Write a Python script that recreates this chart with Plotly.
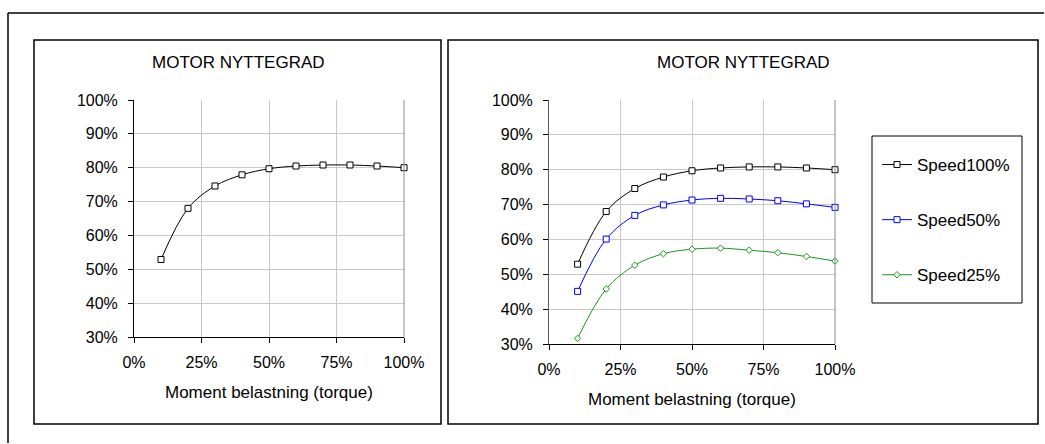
import plotly.graph_objects as go

W, H = 1045, 444

# ---- data ----
torque = [0.1, 0.2, 0.3, 0.4, 0.5, 0.6, 0.7, 0.8, 0.9, 1.0]
speed100 = [0.529, 0.680, 0.746, 0.779, 0.797, 0.805, 0.808, 0.808, 0.805, 0.800]
speed50 = [0.451, 0.601, 0.669, 0.699, 0.713, 0.718, 0.716, 0.711, 0.702, 0.692]
speed25 = [0.316, 0.458, 0.526, 0.559, 0.572, 0.575, 0.569, 0.562, 0.551, 0.538]
series_names = ["Speed100%", "Speed50%", "Speed25%"]
chart_title = "MOTOR NYTTEGRAD"
x_title = "Moment belastning (torque)"

FONT = "Arial, 'Liberation Sans', sans-serif"
FS_TICK = 16
FS_TEXT = 17


def px(x):
    return x / W


def py(y):
    return 1 - y / H


fig = go.Figure()

styles = [
    dict(color="#000000", symbol="square", size=6),
    dict(color="#0000FF", symbol="square", size=6),
    dict(color="#1a961a", symbol="diamond", size=5),
]

# left chart: single series
fig.add_trace(go.Scatter(
    x=torque, y=speed100, mode="lines+markers", xaxis="x", yaxis="y",
    line=dict(color="#000000", width=1, shape="spline", smoothing=1),
    marker=dict(symbol="square", size=6, color="white", line=dict(color="#000000", width=1)),
    showlegend=False, cliponaxis=False, name=series_names[0]))

for vals, name, st, grp in zip([speed100, speed50, speed25], series_names, styles, ["a", "b", "c"]):
    fig.add_trace(go.Scatter(
        x=torque, y=vals, mode="lines+markers", xaxis="x2", yaxis="y2",
        line=dict(color=st["color"], width=1, shape="spline", smoothing=1),
        marker=dict(symbol=st["symbol"], size=st["size"], color="white",
                    line=dict(color=st["color"], width=1)),
        name=name, legendgroup=grp, cliponaxis=False))

axis_common = dict(
    showgrid=True, gridcolor="#c8c8c8", gridwidth=1,
    showline=True, linewidth=1, automargin=False,
    ticks="outside", ticklen=5, tickcolor="#000000", tickwidth=1,
    tickfont=dict(family=FONT, size=FS_TICK, color="#000000"),
    zeroline=False, tickformat=".0%", fixedrange=True,
)

fig.update_layout(
    width=W, height=H, autosize=False,
    margin=dict(l=0, r=0, t=0, b=0, pad=0, autoexpand=False),
    paper_bgcolor="white", plot_bgcolor="white",
    font=dict(family=FONT, size=FS_TEXT, color="#000000"),
    xaxis=dict(domain=[px(134), px(404)], range=[0, 1], dtick=0.25, anchor="y",
               linecolor="#000000", ticklabelstandoff=6, **axis_common),
    yaxis=dict(domain=[py(337), py(100)], range=[0.3, 1.0], dtick=0.1, anchor="x",
               linecolor="#000000", ticklabelstandoff=7, **axis_common),
    xaxis2=dict(domain=[px(549), px(835)], range=[0, 1], dtick=0.25, anchor="y2",
                linecolor="#000000", ticklabelstandoff=6, **axis_common),
    yaxis2=dict(domain=[py(344), py(100)], range=[0.3, 1.0], dtick=0.1, anchor="x2",
                linecolor="#5a5a5a", ticklabelstandoff=7, **axis_common),
    legend=dict(x=px(877), y=py(147), xanchor="left", yanchor="top",
                bgcolor="rgba(0,0,0,0)", borderwidth=0,
                font=dict(family=FONT, size=FS_TEXT, color="#000000"),
                tracegroupgap=30, itemwidth=30, traceorder="grouped"),
)


def rect(x0, y0, x1, y1, color="#000000", width=1):
    fig.add_shape(type="rect", xref="paper", yref="paper",
                  x0=px(x0), x1=px(x1), y0=py(y0), y1=py(y1),
                  line=dict(color=color, width=width), fillcolor="rgba(0,0,0,0)", layer="above")


def line(x0, y0, x1, y1, color="#000000", width=1):
    fig.add_shape(type="line", xref="paper", yref="paper",
                  x0=px(x0), x1=px(x1), y0=py(y0), y1=py(y1),
                  line=dict(color=color, width=width), layer="above")


# outer frame (extends past the canvas)
line(8, 13, 1044, 13, width=1.5)
line(8, 13, 8, 443, width=1.5)
# chart frames
rect(34, 40, 441, 424, width=1.5)
rect(448, 40, 1038, 424, width=1.5)
# legend box
rect(872, 136, 1022, 303, width=1)

# plot area right edges (gray)
for xr, yr in [("x domain", "y domain"), ("x2 domain", "y2 domain")]:
    fig.add_shape(type="line", xref=xr, yref=yr, x0=1, x1=1, y0=0, y1=1,
                  line=dict(color="#8a8a8a", width=1), layer="above")

# titles
fig.add_annotation(x=px(238), y=py(62), xref="paper", yref="paper", text=chart_title,
                   showarrow=False, xanchor="center", yanchor="middle",
                   font=dict(family=FONT, size=FS_TEXT, color="#000000"))
fig.add_annotation(x=px(743), y=py(62), xref="paper", yref="paper", text=chart_title,
                   showarrow=False, xanchor="center", yanchor="middle",
                   font=dict(family=FONT, size=FS_TEXT, color="#000000"))
fig.add_annotation(x=px(269), y=py(392), xref="paper", yref="paper", text=x_title,
                   showarrow=False, xanchor="center", yanchor="middle",
                   font=dict(family=FONT, size=FS_TEXT, color="#000000"))
fig.add_annotation(x=px(692), y=py(399), xref="paper", yref="paper", text=x_title,
                   showarrow=False, xanchor="center", yanchor="middle",
                   font=dict(family=FONT, size=FS_TEXT, color="#000000"))

fig.write_html(
    "out.html",
    config={"responsive": False, "displayModeBar": False},
    post_script="document.body.style.margin='0';document.body.style.overflow='hidden';",
)
